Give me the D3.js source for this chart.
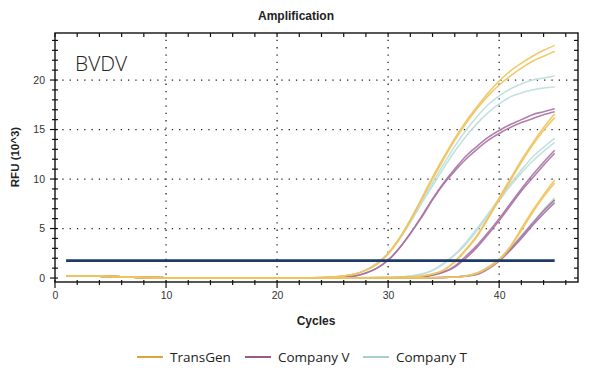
<!DOCTYPE html>
<html><head><meta charset="utf-8">
<script src="https://cdn.jsdelivr.net/npm/d3@7"></script>
<style>body{margin:0;background:#fff}svg{display:block}</style>
</head><body><svg id="c" width="589" height="376"></svg>
<script>
// ---- data ----
const earlyCycles = [1,2,3,4,5,6,7,8,9,10,11,12,13,14,15,16,17,18,19,20];
const baseline = [0.22,0.21,0.2,0.18,0.15,0.12,0.09,0.06,0.04,0.03,0.02,0.01,0.01,0,0,0,0,0,0,0];
const lateCycles = [21,22,23,24,25,26,27,28,29,30,31,32,33,34,35,36,37,38,39,40,41,42,43,44,45];

const transGen = [
  [0,0,0.02,0.05,0.1,0.2,0.4,0.8,1.4,2.5,4.0,5.9,8.0,10.2,12.2,14.1,15.8,17.3,18.7,19.9,20.9,21.7,22.4,23.0,23.5],
  [0,0,0.02,0.05,0.1,0.2,0.4,0.8,1.4,2.4,3.9,5.8,7.9,10.0,12.0,13.9,15.6,17.1,18.4,19.5,20.4,21.2,21.9,22.4,22.9],
  [0,0,0,0,0,0,0,0.02,0.04,0.06,0.08,0.1,0.2,0.4,0.8,1.7,2.9,4.3,6.1,8.1,10.0,11.9,13.6,15.2,16.6],
  [0,0,0,0,0,0,0,0.02,0.04,0.06,0.08,0.1,0.2,0.4,0.8,1.6,2.8,4.2,6.0,7.9,9.8,11.7,13.4,14.9,16.2],
  [0,0,0,0,0,0,0,0,0,0,0,0.01,0.02,0.03,0.05,0.1,0.2,0.5,1.1,1.9,3.2,5.0,6.8,8.4,9.9],
  [0,0,0,0,0,0,0,0,0,0,0,0.01,0.02,0.03,0.05,0.1,0.2,0.45,1.0,1.8,3.1,4.8,6.6,8.2,9.6]
];
const companyV = [
  [0,0,0,0.02,0.05,0.1,0.2,0.5,1.0,1.8,3.0,4.5,6.2,8.0,9.6,11.0,12.3,13.3,14.2,14.9,15.5,16.0,16.5,16.8,17.1],
  [0,0,0,0.02,0.05,0.1,0.2,0.5,1.0,1.8,3.0,4.5,6.1,7.9,9.5,10.8,12.0,13.0,13.9,14.6,15.2,15.7,16.1,16.5,16.8],
  [0,0,0,0,0,0,0,0.01,0.02,0.03,0.04,0.06,0.1,0.3,0.6,1.2,2.2,3.3,4.6,6.0,7.5,9.0,10.4,11.7,12.9],
  [0,0,0,0,0,0,0,0.01,0.02,0.03,0.04,0.06,0.1,0.3,0.6,1.1,2.0,3.1,4.4,5.8,7.3,8.8,10.1,11.4,12.6],
  [0,0,0,0,0,0,0,0,0,0,0,0.01,0.02,0.03,0.05,0.1,0.2,0.4,1.0,1.8,2.9,4.2,5.5,6.8,7.9],
  [0,0,0,0,0,0,0,0,0,0,0,0.01,0.02,0.03,0.05,0.1,0.18,0.35,0.9,1.7,2.8,4.0,5.3,6.5,7.6]
];
const companyT = [
  [0,0,0.02,0.05,0.1,0.2,0.4,0.8,1.5,2.5,4.0,5.8,7.7,9.6,11.5,13.3,14.9,16.3,17.5,18.4,19.1,19.6,20.0,20.2,20.4],
  [0,0,0.02,0.05,0.1,0.2,0.4,0.8,1.5,2.5,3.9,5.6,7.5,9.3,11.1,12.8,14.3,15.6,16.7,17.6,18.3,18.7,19.0,19.2,19.3],
  [0,0,0,0,0,0,0.02,0.04,0.06,0.08,0.1,0.2,0.4,0.8,1.5,2.4,3.6,5.0,6.5,8.0,9.5,10.9,12.2,13.2,14.1],
  [0,0,0,0,0,0,0.02,0.04,0.06,0.08,0.1,0.2,0.38,0.75,1.4,2.3,3.4,4.8,6.3,7.8,9.3,10.6,11.8,12.8,13.7],
  [0,0,0,0,0,0,0,0,0,0,0,0.01,0.02,0.04,0.06,0.12,0.22,0.5,1.1,1.9,3.0,4.3,5.6,6.9,8.1],
  [0,0,0,0,0,0,0,0,0,0,0,0.01,0.02,0.04,0.06,0.11,0.2,0.45,1.0,1.8,2.9,4.1,5.4,6.6,7.8]
];
const threshold = 1.75;
const thresholdRange = [1, 45];
const xTicks = [0,10,20,30,40];
const yTicks = [0,5,10,15,20];
const seriesNames = ["TransGen","Company V","Company T"];
const seriesColors = ["#efc35c","#a872a4","#bcdedb"];
const legendColors = ["#d9a63e","#9b5a8c","#a9cfca"];

// ---- chart ----
const svg = d3.select("#c");
const L=55, R=578, T=33, B=282;
const x = d3.scaleLinear().domain([0,47.1]).range([L,R]);
const y = d3.scaleLinear().domain([-0.4,24.75]).range([B,T]);

// grid
const grid = svg.append("g").attr("stroke","#222").attr("stroke-width",1.3).attr("stroke-dasharray","1.3,6");
xTicks.filter(d=>d>0).forEach(d=>grid.append("line").attr("x1",x(d)).attr("x2",x(d)).attr("y1",B).attr("y2",T));
yTicks.filter(d=>d>0).forEach(d=>grid.append("line").attr("y1",y(d)).attr("y2",y(d)).attr("x1",L).attr("x2",R));

// curves
const line = d3.line().x(d=>x(d[0])).y(d=>y(d[1])).curve(d3.curveMonotoneX);
function pts(arr){ return earlyCycles.map((c,i)=>[c,baseline[i]]).concat(lateCycles.map((c,i)=>[c,arr[i]])); }
const groups=[companyT, companyV, transGen];
const gColors=[seriesColors[2], seriesColors[1], seriesColors[0]];
groups.forEach((g,gi)=>{
  g.forEach(arr=>{
    svg.append("path").attr("d",line(pts(arr))).attr("fill","none")
      .attr("stroke",gColors[gi]).attr("stroke-width",1.6).attr("stroke-opacity",0.9);
  });
});

// threshold
svg.append("line").attr("x1",x(thresholdRange[0])).attr("x2",x(thresholdRange[1]))
  .attr("y1",y(threshold)).attr("y2",y(threshold)).attr("stroke","#1e3a68").attr("stroke-width",2.8);

// frame
svg.append("rect").attr("x",L).attr("y",T).attr("width",R-L).attr("height",B-T)
  .attr("fill","none").attr("stroke","#111").attr("stroke-width",1.4);

// axes
const xMinor = d3.range(0,47,2);
const yMinor = d3.range(0,25,1);
const ax = svg.append("g").attr("stroke","#111").attr("stroke-width",1.2);
xMinor.forEach(d=>{
  const major = xTicks.includes(d);
  ax.append("line").attr("x1",x(d)).attr("x2",x(d)).attr("y1",B-2).attr("y2",B+(major?6:3));
  ax.append("line").attr("x1",x(d)).attr("x2",x(d)).attr("y1",T).attr("y2",T+4);
});
yMinor.forEach(d=>{
  const major = yTicks.includes(d);
  ax.append("line").attr("y1",y(d)).attr("y2",y(d)).attr("x1",L-(major?5:3)).attr("x2",L+3);
  ax.append("line").attr("y1",y(d)).attr("y2",y(d)).attr("x1",R-4).attr("x2",R);
});
const xa = svg.append("g").attr("transform",`translate(0,${B})`)
  .call(d3.axisBottom(x).tickValues(xTicks).tickSize(0).tickPadding(10));
xa.select(".domain").remove();
xa.selectAll("text").attr("font-family","Arial, Liberation Sans, sans-serif").attr("font-size",10.5).attr("fill","#333");
const ya = svg.append("g").attr("transform",`translate(${L},0)`)
  .call(d3.axisLeft(y).tickValues(yTicks).tickSize(0).tickPadding(10));
ya.select(".domain").remove();
ya.selectAll("text").attr("font-family","Arial, Liberation Sans, sans-serif").attr("font-size",10.5).attr("fill","#333");

// titles
svg.append("text").attr("x",296).attr("y",20).attr("text-anchor","middle")
  .attr("font-family","Arial, Liberation Sans, sans-serif").attr("font-weight","bold").attr("font-size",12).attr("fill","#222").text("Amplification");
svg.append("text").attr("x",316).attr("y",325).attr("text-anchor","middle")
  .attr("font-family","Arial, Liberation Sans, sans-serif").attr("font-weight","bold").attr("font-size",12).attr("fill","#222").text("Cycles");
svg.append("text").attr("transform","translate(19,157) rotate(-90)").attr("text-anchor","middle")
  .attr("font-family","Arial, Liberation Sans, sans-serif").attr("font-weight","bold").attr("font-size",11.5).attr("fill","#222").text("RFU (10^3)");
svg.append("text").attr("x",75).attr("y",71)
  .attr("font-family","'Open Sans', Lato, sans-serif").attr("font-weight",300).attr("font-size",21).attr("fill","#222").text("BVDV");

// legend
const legX=[137,245,363];
seriesNames.forEach((n,i)=>{
  svg.append("line").attr("x1",legX[i]).attr("x2",legX[i]+26).attr("y1",357).attr("y2",357)
    .attr("stroke",legendColors[i]).attr("stroke-width",2);
  svg.append("text").attr("x",legX[i]+33).attr("y",362)
    .attr("font-family","'Open Sans', 'Noto Sans', sans-serif").attr("font-size",13.5).attr("fill","#222").text(n);
});
</script></body></html>
